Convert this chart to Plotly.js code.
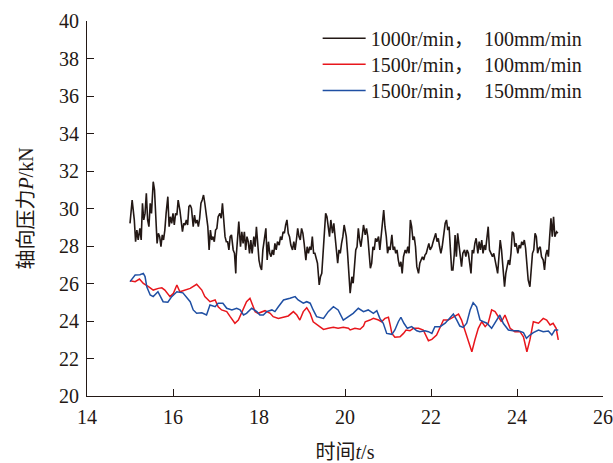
<!DOCTYPE html>
<html>
<head>
<meta charset="utf-8">
<script src="https://cdn.plot.ly/plotly-3.0.1.min.js"></script>
<style>html,body{margin:0;padding:0;background:#fff;}#chart{width:613px;height:463px;}</style>
</head>
<body>
<div id="chart"></div>
<script>
// Series names
const seriesNames = ['1000r/min，\u00a0\u00a0100mm/min', '1500r/min，\u00a0\u00a0100mm/min', '1500r/min，\u00a0\u00a0150mm/min'];

// Black: 1000r/min, 100mm/min
const blackT = [15.00,15.05,15.10,15.13,15.16,15.19,15.23,15.26,15.29,15.32,15.35,15.38,15.41,15.44,15.47,15.50,15.54,15.57,15.60,15.63,15.66,15.69,15.72,15.75,15.78,15.81,15.84,15.88,15.91,15.94,15.97,16.00,16.03,16.06,16.09,16.12,16.16,16.19,16.22,16.25,16.28,16.31,16.34,16.37,16.40,16.43,16.47,16.50,16.53,16.56,16.59,16.62,16.65,16.68,16.71,16.74,16.78,16.81,16.84,16.87,16.90,16.93,16.96,16.99,17.02,17.05,17.09,17.12,17.15,17.18,17.21,17.24,17.27,17.30,17.33,17.36,17.40,17.43,17.46,
17.47,17.50,17.53,17.57,17.60,17.63,17.66,17.69,17.72,17.75,17.78,17.81,17.84,17.88,17.91,17.94,17.97,18.00,18.03,18.06,18.09,18.12,18.16,18.19,18.22,18.25,18.28,18.31,18.34,18.37,18.40,18.43,18.47,18.50,18.53,18.56,18.59,18.62,18.65,18.68,18.71,18.74,18.78,18.81,18.84,18.87,18.90,18.93,18.96,18.99,19.02,19.05,19.09,19.12,19.15,19.18,19.21,19.24,19.27,19.30,19.33,19.36,19.40,19.43,19.46,19.49,19.52,19.55,19.58,19.61,19.64,19.67,19.71,19.74,19.77,19.80,19.83,19.86,19.89,19.92,19.95,19.98,
20.03,20.06,20.09,20.12,20.16,20.19,20.22,20.25,20.28,20.31,20.34,20.37,20.40,20.43,20.47,20.50,20.53,20.56,20.59,20.62,20.65,20.68,20.71,20.74,20.78,20.81,20.84,20.87,20.90,20.93,20.96,20.99,21.02,21.05,21.09,21.12,21.15,21.18,21.21,21.24,21.27,21.30,21.33,21.36,21.40,21.43,21.46,21.49,21.52,21.55,21.58,21.61,21.64,21.67,21.71,21.74,21.77,21.80,21.83,21.86,21.89,21.92,21.95,21.98,22.02,22.05,22.08,22.11,22.14,22.17,22.20,22.23,22.26,22.30,22.33,22.36,22.39,22.42,22.45,22.48,22.51,22.54,
22.56,22.59,22.62,22.65,22.68,22.71,22.74,22.78,22.81,22.84,22.87,22.90,22.93,22.96,22.99,23.02,23.05,23.09,23.12,23.15,23.18,23.21,23.24,23.27,23.30,23.33,23.36,23.40,23.43,23.46,23.49,23.52,23.55,23.58,23.61,23.64,23.67,23.71,23.74,23.77,23.80,23.83,23.86,23.89,23.92,23.95,23.98,24.02,24.05,24.08,24.11,24.14,24.17,24.20,24.23,24.26,24.30,24.33,24.36,24.39,24.42,24.45,24.48,24.51,24.54,24.57,24.61,24.64,24.67,24.70,24.73,24.76,24.79,24.82,24.85,24.88,24.92,24.95];
const blackP = [29.21,30.45,29.39,28.23,28.85,28.32,28.94,28.32,30.28,29.39,29.74,30.81,29.39,29.03,30.28,29.74,31.43,30.99,29.56,28.14,28.68,28.50,27.96,28.59,28.32,28.85,29.74,30.63,29.03,29.56,29.21,29.74,29.12,29.74,29.65,30.45,29.92,29.39,28.76,29.21,29.12,29.39,29.12,30.10,30.19,30.01,29.03,29.65,29.21,29.39,29.03,29.48,30.28,30.45,30.72,30.28,29.39,29.03,27.79,28.85,28.32,28.50,28.23,28.85,28.94,29.56,29.74,29.48,30.28,29.21,28.50,28.23,28.23,27.79,28.50,28.59,27.79,27.61,26.54,
27.43,28.50,29.30,27.96,28.76,28.14,28.76,27.79,28.50,28.23,27.61,28.32,27.61,28.50,27.96,29.03,27.79,27.25,26.90,26.72,27.79,28.32,28.94,27.25,28.23,27.61,27.43,27.79,27.52,28.14,27.79,28.23,28.05,28.50,28.32,28.76,28.68,29.12,29.39,28.68,28.50,28.05,27.79,28.23,27.79,28.32,28.94,28.50,28.32,28.94,28.68,28.14,27.25,27.96,27.61,27.96,27.79,28.50,27.61,27.61,27.25,27.08,25.92,26.36,26.54,27.61,28.50,29.74,29.56,28.85,28.50,29.39,28.68,29.21,28.50,27.96,27.08,27.79,27.61,28.14,28.50,29.12,
28.50,27.61,26.72,25.48,26.36,26.01,26.90,27.79,27.96,28.94,28.32,27.96,28.50,29.12,28.59,28.94,28.50,27.79,26.81,27.08,27.96,27.79,28.41,28.23,28.50,27.79,28.50,29.03,29.92,29.03,28.50,27.61,27.96,27.79,28.59,27.79,27.96,27.61,27.79,27.25,26.90,27.16,26.54,27.43,27.79,27.61,27.96,27.61,29.39,29.03,28.32,28.50,27.96,26.90,26.54,27.08,27.25,27.43,27.25,27.52,27.61,27.96,28.14,27.79,27.96,28.23,28.50,28.68,28.23,28.41,27.96,27.61,27.96,28.68,29.21,29.39,28.85,29.03,27.96,26.72,26.72,27.52,
28.59,27.43,28.68,27.96,27.25,26.90,27.61,27.79,27.43,27.79,27.61,26.90,26.54,27.79,27.61,28.14,28.41,27.61,28.23,27.79,28.32,27.61,28.05,27.79,28.50,29.03,27.79,27.61,27.43,27.61,27.16,26.90,26.54,27.43,28.32,27.79,26.72,25.83,26.54,26.90,27.25,26.99,27.61,28.76,28.68,27.96,28.14,27.61,28.05,27.88,28.23,28.05,28.32,27.88,26.72,26.19,25.83,26.72,27.61,27.79,28.68,28.50,27.61,27.88,27.96,27.43,27.25,26.72,27.52,27.79,27.43,28.50,29.48,28.50,29.56,28.50,28.76,28.68];

// Red: 1500r/min, 100mm/min
const redT = [15.00,15.12,15.22,15.31,15.43,15.54,15.66,15.74,15.81,15.93,16.01,16.09,16.16,16.28,16.40,16.55,16.67,16.74,16.86,16.98,17.05,17.13,17.25,17.33,17.44,17.52,17.60,17.71,17.79,17.85,17.91,17.98,18.06,18.14,18.26,18.33,18.45,18.57,18.68,18.80,18.88,18.95,19.03,19.11,19.19,19.26,19.38,19.50,19.61,19.73,19.84,19.96,20.08,
20.12,20.23,20.35,20.43,20.47,20.58,20.66,20.78,20.85,20.93,21.01,21.05,21.09,21.16,21.28,21.36,21.42,21.51,21.59,21.71,21.82,21.94,22.02,22.13,22.21,22.29,22.40,22.52,22.64,22.71,22.79,22.87,22.95,23.02,23.10,23.18,23.26,23.33,23.41,23.49,23.57,23.64,23.72,23.84,23.95,24.07,24.15,24.23,24.30,24.38,24.50,24.61,24.69,24.77,24.84,24.91,24.96];
const redP = [26.15,26.10,26.24,26.00,25.83,25.65,25.74,25.77,25.65,25.30,25.48,25.92,25.56,25.65,25.74,25.96,25.65,25.30,25.03,25.12,24.76,24.59,24.50,24.23,23.88,24.05,24.50,25.03,25.21,24.85,24.50,24.41,24.50,24.55,24.41,24.23,24.14,24.20,24.27,24.50,24.32,24.05,24.50,24.71,24.41,23.96,23.73,23.55,23.61,23.66,23.61,23.66,23.61,
23.52,23.61,23.56,23.73,23.96,24.05,24.14,24.05,23.96,24.14,24.20,23.79,23.34,23.13,23.16,23.34,23.52,23.48,23.61,23.61,23.52,22.95,23.02,23.25,23.70,24.05,24.05,24.23,24.37,24.05,23.52,22.99,22.36,22.99,23.61,23.96,23.70,23.88,24.59,24.50,24.23,23.96,24.32,23.61,23.43,23.43,23.16,22.36,22.99,23.96,23.88,24.14,24.05,23.79,23.88,23.61,22.99];

// Blue: 1500r/min, 150mm/min
const blueT = [15.00,15.12,15.23,15.31,15.35,15.39,15.47,15.54,15.65,15.77,15.88,15.97,16.09,16.23,16.40,16.47,16.55,16.67,16.78,16.86,16.98,17.05,17.16,17.25,17.37,17.48,17.56,17.64,17.71,17.83,17.95,18.02,18.10,18.18,18.30,18.37,18.45,18.57,18.72,18.84,18.91,19.03,19.11,19.19,19.26,19.34,19.50,19.61,19.73,19.84,19.96,20.08,
20.19,20.31,20.43,20.54,20.66,20.74,20.81,20.89,20.97,21.09,21.16,21.24,21.30,21.37,21.45,21.55,21.67,21.74,21.86,21.94,22.02,22.09,22.21,22.33,22.44,22.52,22.60,22.67,22.75,22.83,22.91,22.98,23.06,23.14,23.22,23.30,23.41,23.53,23.60,23.68,23.80,23.91,24.03,24.15,24.22,24.30,24.38,24.50,24.61,24.73,24.81,24.88,24.96];
const blueP = [26.10,26.45,26.47,26.54,26.37,25.83,25.39,25.30,25.56,25.03,25.00,25.30,25.56,25.50,25.03,24.59,24.41,24.44,24.32,24.85,24.76,24.95,24.95,24.68,24.59,24.68,24.59,24.32,24.41,24.68,24.50,24.32,24.32,24.50,24.59,24.50,24.76,25.12,25.21,25.30,25.12,24.95,25.03,24.95,24.59,24.23,24.14,24.50,24.76,24.59,24.05,24.23,
24.41,24.68,24.50,24.59,24.41,24.55,24.14,23.88,23.34,23.29,23.52,23.96,24.20,23.88,23.61,23.70,23.48,23.43,23.48,23.43,23.34,23.70,23.70,23.88,24.20,24.37,24.05,23.73,23.66,23.88,24.59,24.98,24.76,24.05,23.96,23.88,23.61,24.05,24.32,23.88,23.52,23.48,23.48,23.38,23.08,23.25,23.38,23.52,23.43,23.47,23.25,23.52,23.52];

const serif = 'Liberation Serif, Times New Roman, Noto Sans CJK SC, serif';
const ink = '#231815';

const traces = [
  {x: blackT, y: blackP, name: seriesNames[0], type: 'scatter', mode: 'lines', line: {color: '#231815', width: 1.6}, legend: 'legend'},
  {x: redT, y: redP, name: seriesNames[1], type: 'scatter', mode: 'lines', line: {color: '#e8161c', width: 1.5}, legend: 'legend2'},
  {x: blueT, y: blueP, name: seriesNames[2], type: 'scatter', mode: 'lines', line: {color: '#1f4fa3', width: 1.5}, legend: 'legend3'}
];

function legendAt(yTop) {
  return {
    x: 0.447, y: yTop, xanchor: 'left', yanchor: 'top',
    bgcolor: 'rgba(0,0,0,0)', borderwidth: 0,
    font: {family: serif, size: 20, color: ink},
    itemwidth: 43
  };
}

const layout = {
  width: 613, height: 463,
  margin: {l: 87, r: 10, t: 21, b: 67},
  paper_bgcolor: '#ffffff', plot_bgcolor: '#ffffff',
  font: {family: serif, size: 20, color: ink},
  showlegend: true,
  legend: legendAt(1.006),
  legend2: legendAt(0.937),
  legend3: legendAt(0.867),
  xaxis: {
    range: [14, 26], dtick: 2, tick0: 14,
    showgrid: false, zeroline: false,
    showline: true, linecolor: ink, linewidth: 1,
    ticks: 'inside', ticklen: 7, tickcolor: ink, tickwidth: 1,
    tickfont: {family: serif, size: 20, color: ink},
    ticklabelstandoff: 3,
    title: {text: '时间<i>t</i>/s', font: {family: serif, size: 20, color: ink}, standoff: 17}
  },
  yaxis: {
    range: [20, 40], dtick: 2, tick0: 20,
    showgrid: false, zeroline: false,
    showline: true, linecolor: ink, linewidth: 1,
    ticks: 'inside', ticklen: 7, tickcolor: ink, tickwidth: 1,
    tickfont: {family: serif, size: 20, color: ink},
    ticklabelstandoff: 3,
    title: {text: '轴向压力<i>P</i>/kN', font: {family: serif, size: 20, color: ink}, standoff: 20}
  }
};

Plotly.newPlot('chart', traces, layout, {displayModeBar: false, staticPlot: true});
</script>
</body>
</html>
